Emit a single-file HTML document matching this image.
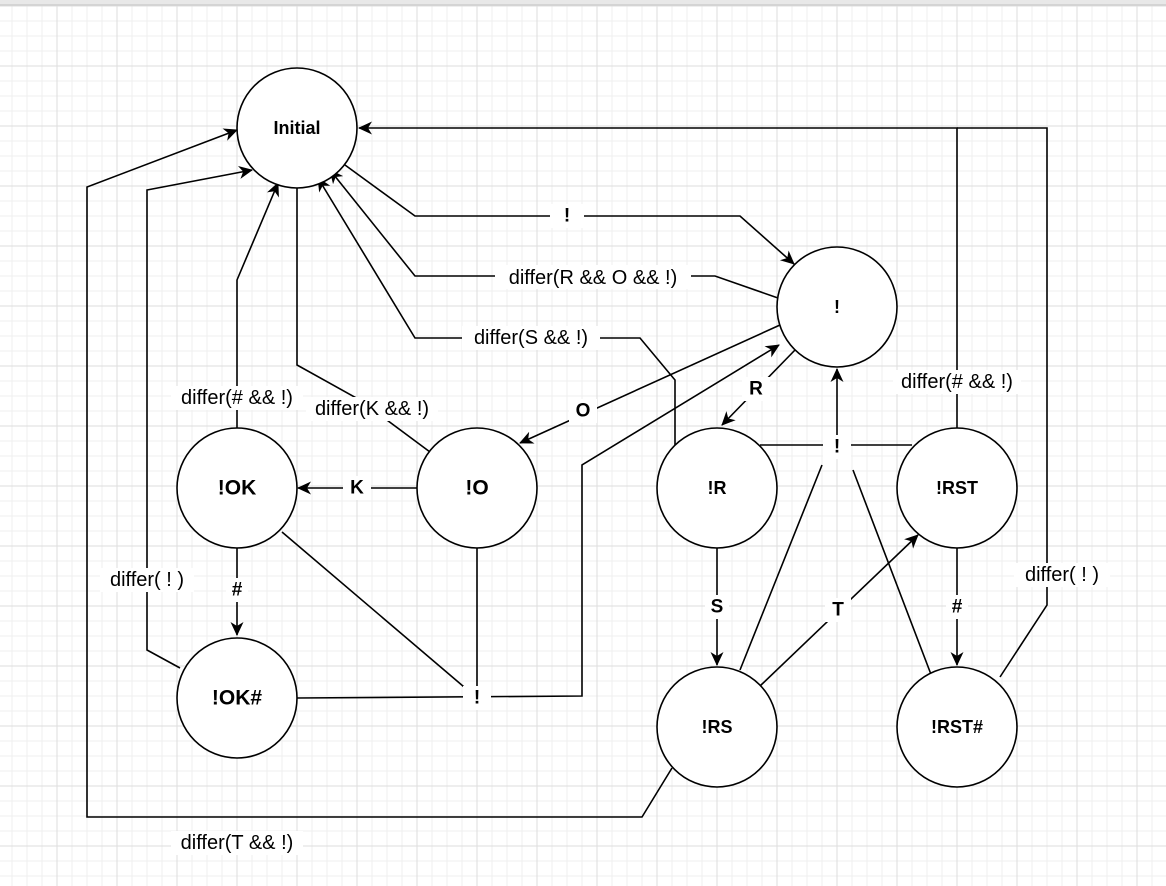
<!DOCTYPE html>
<html><head><style>
html,body{margin:0;padding:0;background:#fff;}
svg{display:block;font-family:"Liberation Sans",Arial,sans-serif;}
</style></head><body>
<svg width="1166" height="886" viewBox="0 0 1166 886" xmlns="http://www.w3.org/2000/svg">
<defs>
<pattern id="g" x="0" y="7" width="15" height="15" patternUnits="userSpaceOnUse"><path d="M12 0V15M0 14H15" stroke="#efefef" stroke-width="1" fill="none"/></pattern>
<pattern id="G" x="0" y="7" width="60" height="60" patternUnits="userSpaceOnUse"><path d="M57 0V60M0 59H60" stroke="#dedede" stroke-width="1" fill="none"/></pattern>
<marker id="a" markerWidth="16" markerHeight="14" refX="13" refY="6.5" orient="auto" markerUnits="userSpaceOnUse"><path d="M0,0 L14,6.5 L0,13 L4,6.5 Z" fill="#000"/></marker>
</defs>
<rect x="0" y="0" width="1166" height="886" fill="url(#g)"/>
<rect x="0" y="0" width="1166" height="886" fill="url(#G)"/>
<rect x="0" y="0" width="1166" height="4" fill="#e8e8e8"/>
<rect x="0" y="4" width="1166" height="2" fill="#d4d4d4"/>
<g stroke="#000" stroke-width="1.6" fill="none">
<path d="M345,165 L415,216 L740,216 L794,264" marker-end="url(#a)"/>
<path d="M778,298 L715,276 L415,276 L330,170" marker-end="url(#a)"/>
<path d="M675,445 L675,380 L640,338 L415,338 L318,178" marker-end="url(#a)"/>
<path d="M430,452 L360,400 L297,365 L297,168" marker-end="url(#a)"/>
<path d="M237,428 L237,280 L278,183" marker-end="url(#a)"/>
<path d="M180,668 L147,650 L147,190 L252,170" marker-end="url(#a)"/>
<path d="M672,768 L642,817 L87,817 L87,187 L237,130" marker-end="url(#a)"/>
<path d="M957,428 L957,128 L359,128" marker-end="url(#a)"/>
<path d="M1000,677 L1047,605 L1047,128 L957,128"/>
<path d="M780,325 L520,443" marker-end="url(#a)"/>
<path d="M417,488 L298,488" marker-end="url(#a)"/>
<path d="M237,548 L237,635" marker-end="url(#a)"/>
<path d="M795,350 L722,425" marker-end="url(#a)"/>
<path d="M282,532 L477,698 M477,548 L477,698 M297,698 L582,696 L582,465 L779,345" marker-end="url(#a)"/>
<path d="M760,445 L912,445 M740,670 L822,465 M853,470 L932,677"/>
<path d="M837,440 L837,369" marker-end="url(#a)"/>
<path d="M717,548 L717,665" marker-end="url(#a)"/>
<path d="M760,686 L918,535" marker-end="url(#a)"/>
<path d="M957,548 L957,665" marker-end="url(#a)"/>
</g>
<g stroke="#000" stroke-width="1.6" fill="#fff">
<circle cx="297" cy="128" r="60"/>
<circle cx="837" cy="307" r="60"/>
<circle cx="237" cy="488" r="60"/>
<circle cx="477" cy="488" r="60"/>
<circle cx="717" cy="488" r="60"/>
<circle cx="957" cy="488" r="60"/>
<circle cx="237" cy="698" r="60"/>
<circle cx="717" cy="727" r="60"/>
<circle cx="957" cy="727" r="60"/>
</g>
<g font-weight="bold" text-anchor="middle" dominant-baseline="central" font-size="18">
<text x="297" y="128">Initial</text>
<text x="837" y="307">!</text>
<text x="237" y="488" font-size="21">!OK</text>
<text x="477" y="488" font-size="21">!O</text>
<text x="717" y="488">!R</text>
<text x="957" y="488">!RST</text>
<text x="237" y="698" font-size="21">!OK#</text>
<text x="717" y="727">!RS</text>
<text x="957" y="727">!RST#</text>
</g>
<g text-anchor="middle" dominant-baseline="central" font-size="20">
<g fill="#fff">
<rect x="550" y="204" width="34" height="24"/>
<rect x="495" y="265" width="196" height="24"/>
<rect x="462" y="326" width="138" height="24"/>
<rect x="306" y="397" width="132" height="24"/>
<rect x="171" y="386" width="132" height="24"/>
<rect x="100" y="568" width="94" height="24"/>
<rect x="171" y="831" width="132" height="24"/>
<rect x="893" y="370" width="128" height="24"/>
<rect x="1014" y="563" width="96" height="24"/>
<rect x="569" y="399" width="28" height="24"/>
<rect x="343" y="476" width="28" height="24"/>
<rect x="226" y="578" width="22" height="24"/>
<rect x="742" y="377" width="28" height="24"/>
<rect x="463" y="686" width="28" height="24"/>
<rect x="823" y="435" width="28" height="24"/>
<rect x="705" y="595" width="24" height="24"/>
<rect x="825" y="598" width="26" height="24"/>
<rect x="946" y="595" width="22" height="24"/>
</g>
<text x="593" y="278">differ(R &amp;&amp; O &amp;&amp; !)</text>
<text x="531" y="338">differ(S &amp;&amp; !)</text>
<text x="372" y="409">differ(K &amp;&amp; !)</text>
<text x="237" y="398">differ(# &amp;&amp; !)</text>
<text x="147" y="580">differ( ! )</text>
<text x="237" y="843">differ(T &amp;&amp; !)</text>
<text x="957" y="382">differ(# &amp;&amp; !)</text>
<text x="1062" y="575">differ( ! )</text>
<g font-weight="bold" font-size="19">
<text x="567" y="216">!</text>
<text x="583" y="411">O</text>
<text x="357" y="488">K</text>
<text x="237" y="590">#</text>
<text x="756" y="389">R</text>
<text x="477" y="698">!</text>
<text x="837" y="447">!</text>
<text x="717" y="607">S</text>
<text x="838" y="610">T</text>
<text x="957" y="607">#</text>
</g>
</g>
</svg>
</body></html>
